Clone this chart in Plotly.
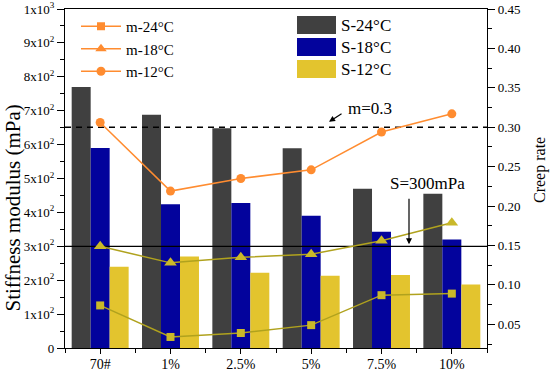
import plotly.graph_objects as go

categories = ["70#", "1%", "2.5%", "5%", "7.5%", "10%"]
s_24 = [770, 688, 648, 589, 470, 455]
s_18 = [590, 424, 428, 390, 343, 320]
s_12 = [240, 270, 222, 213, 215, 187]
m_24 = [0.074, 0.034, 0.039, 0.049, 0.087, 0.089]
m_18 = [0.149, 0.128, 0.135, 0.139, 0.156, 0.179]
m_12 = [0.306, 0.219, 0.235, 0.246, 0.294, 0.317]
left_ticks = [0, 100, 200, 300, 400, 500, 600, 700, 800, 900, 1000]
left_ticktext = ["0", "1x10<sup>2</sup>", "2x10<sup>2</sup>", "3x10<sup>2</sup>", "4x10<sup>2</sup>",
                 "5x10<sup>2</sup>", "6x10<sup>2</sup>", "7x10<sup>2</sup>", "8x10<sup>2</sup>",
                 "9x10<sup>2</sup>", "1x10<sup>3</sup>"]
right_ticks = [0.05, 0.10, 0.15, 0.20, 0.25, 0.30, 0.35, 0.40, 0.45]
s_limit = 300
m_limit = 0.3

xs = list(range(len(categories)))
FONT = "Liberation Serif, Times New Roman, serif"
GRAY, BLUE, YELLOW = "#404040", "#03039C", "#E3C42E"
ORANGE, OLIVE, OLIVE_M = "#FF8C30", "#B0A21E", "#C9B82A"

# plot area in pixels: x 65..487, y 9..348
PX0, PW, PY1, PH = 65, 422, 348, 339


def px(sx):
    return (sx - PX0) / PW


def py(sy):
    return (PY1 - sy) / PH


fig = go.Figure()
for name, vals, col in [("S-24°C", s_24, GRAY), ("S-18°C", s_18, BLUE), ("S-12°C", s_12, YELLOW)]:
    fig.add_trace(go.Bar(x=xs, y=vals, name=name, marker=dict(color=col, line=dict(width=0)),
                         showlegend=False, yaxis="y"))

# reference lines
fig.add_trace(go.Scatter(x=[-0.5, 5.5], y=[s_limit, s_limit], mode="lines",
                         line=dict(color="black", width=1.3), showlegend=False, yaxis="y"))
fig.add_trace(go.Scatter(x=[-0.5, 5.5], y=[m_limit, m_limit], mode="lines",
                         line=dict(color="black", width=1.3, dash="6px,5px"), showlegend=False, yaxis="y2"))

# creep-rate lines
fig.add_trace(go.Scatter(x=xs, y=m_24, mode="lines+markers", yaxis="y2", showlegend=False,
                         line=dict(color=OLIVE, width=1.5),
                         marker=dict(symbol="square", size=8, color=OLIVE_M)))
fig.add_trace(go.Scatter(x=xs, y=m_18, mode="lines+markers", yaxis="y2", showlegend=False,
                         line=dict(color=OLIVE, width=1.5),
                         marker=dict(symbol="triangle-up", size=11, color=OLIVE_M)))
fig.add_trace(go.Scatter(x=xs, y=m_12, mode="lines+markers", yaxis="y2", showlegend=False,
                         line=dict(color=ORANGE, width=1.5),
                         marker=dict(symbol="circle", size=9, color=ORANGE)))

# legend entries for the lines
for name, sym, sz in [("m-24°C", "square", 8), ("m-18°C", "triangle-up", 10), ("m-12°C", "circle", 9)]:
    fig.add_trace(go.Scatter(x=[None], y=[None], mode="lines+markers", name=name, yaxis="y2",
                             line=dict(color=ORANGE, width=1.5),
                             marker=dict(symbol=sym, size=sz, color=ORANGE)))

# bar legend (swatches)
shapes = []
annotations = []
for i, (name, col) in enumerate([("S-24°C", GRAY), ("S-18°C", BLUE), ("S-12°C", YELLOW)]):
    yc = 25 + 22 * i
    shapes.append(dict(type="rect", xref="paper", yref="paper",
                       x0=px(297), x1=px(336), y0=py(yc + 9), y1=py(yc - 9),
                       fillcolor=col, line=dict(width=0)))
    annotations.append(dict(xref="paper", yref="paper", x=px(339), y=py(yc),
                            text=name, showarrow=False, xanchor="left", yanchor="middle",
                            font=dict(family=FONT, size=17, color="black")))

annotations += [
    dict(x=3.254, y=0.307, xref="x", yref="y2", text="", showarrow=True, ax=14, ay=-9,
         arrowhead=2, arrowsize=1, arrowwidth=1.2, arrowcolor="black"),
    dict(x=3.84, y=0.3235, xref="x", yref="y2", text="m=0.3", showarrow=False,
         font=dict(family=FONT, size=17, color="black")),
    dict(x=4.391, y=306, xref="x", yref="y", text="", showarrow=True, ax=0, ay=-47,
         arrowhead=2, arrowsize=1, arrowwidth=1.2, arrowcolor="black"),
    dict(x=4.66, y=485, xref="x", yref="y", text="S=300mPa", showarrow=False,
         font=dict(family=FONT, size=17, color="black")),
    # axis titles
    dict(xref="paper", yref="paper", x=px(12.5), y=py(208), text="Stiffness modulus (mPa)",
         textangle=-90, showarrow=False, xanchor="center", yanchor="middle",
         font=dict(family=FONT, size=21, color="black")),
    dict(xref="paper", yref="paper", x=px(540), y=py(170), text="Creep rate",
         textangle=-90, showarrow=False, xanchor="center", yanchor="middle",
         font=dict(family=FONT, size=16, color="black")),
]

tick_font = dict(family=FONT, size=13, color="black")

fig.update_layout(
    width=550, height=372,
    margin=dict(l=PX0, r=550 - (PX0 + PW), t=PY1 - PH, b=372 - PY1),
    paper_bgcolor="white", plot_bgcolor="white",
    font=dict(family=FONT, size=14, color="black"),
    barmode="group", bargap=0.19, bargroupgap=0,
    shapes=shapes, annotations=annotations,
    legend=dict(x=px(76), y=py(10), xanchor="left", yanchor="top", bgcolor="rgba(0,0,0,0)",
                font=dict(family=FONT, size=15, color="black"), tracegroupgap=0, itemwidth=40),
    xaxis=dict(range=[-0.5, 5.5], tickvals=xs, ticktext=categories, showline=True,
               linecolor="black", linewidth=1.3, mirror=True, ticks="outside", ticklen=5,
               tickcolor="black", showgrid=False, zeroline=False, automargin=False,
               ticklabelstandoff=-2,
               tickfont=dict(family=FONT, size=14, color="black"),
               minor=dict(tick0=0.5, dtick=1, ticks="outside", ticklen=4, tickcolor="black")),
    yaxis=dict(range=[0, 1000], tickvals=left_ticks, ticktext=left_ticktext, showline=True,
               linecolor="black", linewidth=1.3, ticks="outside", ticklen=7, tickcolor="black",
               showgrid=False, zeroline=False, automargin=False, tickfont=tick_font,
               minor=dict(dtick=50, ticks="outside", ticklen=4, tickcolor="black")),
    yaxis2=dict(range=[0.02, 0.45], tickvals=right_ticks, tickformat=".2f", overlaying="y",
                side="right", showline=True, linecolor="black", linewidth=1.3, ticks="outside",
                ticklen=7, tickcolor="black", showgrid=False, zeroline=False, automargin=False,
                tickfont=tick_font,
                minor=dict(tick0=0.025, dtick=0.05, ticks="outside", ticklen=4, tickcolor="black")),
)

# the page's default 8px body margin would shift the 550x372 figure out of the window
fig.write_html("out.html", config={"displayModeBar": False},
               post_script="document.body.style.margin='0';")
